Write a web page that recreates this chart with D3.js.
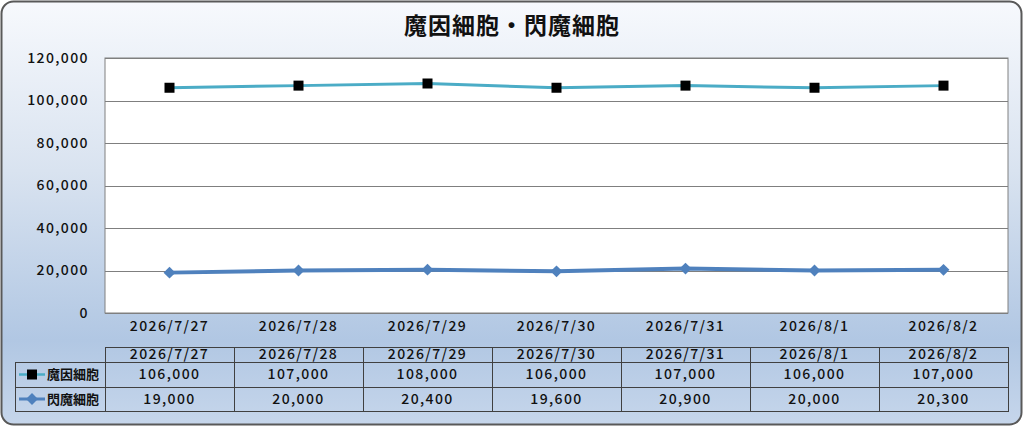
<!DOCTYPE html>
<html>
<head>
<meta charset="utf-8">
<script src="https://cdn.jsdelivr.net/npm/d3@7"></script>
<style>
  html, body { margin: 0; padding: 0; background: #ffffff; }
  text { font-family: "Noto Sans CJK JP", "Noto Sans", sans-serif; }
</style>
</head>
<body>
<div id="chart-area"></div>
<script>
// data
let dates = ["2026/7/27", "2026/7/28", "2026/7/29", "2026/7/30", "2026/7/31", "2026/8/1", "2026/8/2"];
let seriesNames = ["魔因細胞", "閃魔細胞"];
let maValues = [106000, 107000, 108000, 106000, 107000, 106000, 107000];
let senValues = [19000, 20000, 20400, 19600, 20900, 20000, 20300];
let yTicks = [0, 20000, 40000, 60000, 80000, 100000, 120000];
let title = "魔因細胞・閃魔細胞";

let W = 1024, H = 427;
let plot = {left: 105, right: 1008, top: 58, bottom: 313};

let svg = d3.select("#chart-area").append("svg")
	.attr("width", W)
	.attr("height", H);

let defs = svg.append("defs");
let grad = defs.append("linearGradient")
	.attr("id", "bg")
	.attr("x1", 0).attr("y1", 0).attr("x2", 0).attr("y2", 1);
grad.append("stop").attr("offset", "0%").attr("stop-color", "#f7f9fd");
grad.append("stop").attr("offset", "40%").attr("stop-color", "#d9e3f0");
grad.append("stop").attr("offset", "80%").attr("stop-color", "#b1c7e3");
grad.append("stop").attr("offset", "100%").attr("stop-color", "#c6d6eb");

// chart background
svg.append("rect")
	.attr("x", 1.5).attr("y", 1.5)
	.attr("width", W - 4).attr("height", H - 4)
	.attr("rx", 12).attr("ry", 12)
	.attr("fill", "url(#bg)")
	.attr("stroke", "#595959")
	.attr("stroke-width", 2);

svg.append("text")
	.attr("x", 512).attr("y", 34)
	.attr("text-anchor", "middle")
	.attr("font-size", 23)
	.attr("font-weight", "bold")
	.attr("letter-spacing", 1)
	.attr("fill", "#111")
	.text(title);

let x = d3.scaleBand()
	.domain(dates)
	.range([plot.left, plot.right]);

let y = d3.scaleLinear()
	.domain([0, 120000])
	.range([plot.bottom, plot.top]);

// plot area
svg.append("rect")
	.attr("x", plot.left).attr("y", plot.top)
	.attr("width", plot.right - plot.left)
	.attr("height", plot.bottom - plot.top)
	.attr("fill", "#ffffff")
	.attr("stroke", "#808080")
	.attr("stroke-width", 1);

// gridlines
svg.append("g")
	.selectAll("line")
	.data(yTicks)
	.enter().append("line")
	.attr("x1", plot.left).attr("x2", plot.right)
	.attr("y1", (d) => Math.round(y(d)) + 0.5)
	.attr("y2", (d) => Math.round(y(d)) + 0.5)
	.attr("stroke", "#7f7f7f")
	.attr("stroke-width", 1);

let labelStyle = (sel) => sel
	.attr("font-size", 14)
	.attr("font-weight", 500)
	.attr("letter-spacing", 1.4)
	.attr("fill", "#111")
	.style("font-family", "'Noto Sans CJK JP', sans-serif");

// y axis labels
let yAxis = d3.axisLeft(y)
	.tickValues(yTicks)
	.tickFormat(d3.format(","))
	.tickSize(0)
	.tickPadding(16);
let yg = svg.append("g")
	.attr("transform", "translate(" + plot.left + ",0)")
	.call(yAxis);
yg.select(".domain").remove();
labelStyle(yg.selectAll("text"));

// x axis labels
let xAxis = d3.axisBottom(x).tickSize(0).tickPadding(8);
let xg = svg.append("g")
	.attr("transform", "translate(0," + plot.bottom + ")")
	.call(xAxis);
xg.select(".domain").remove();
labelStyle(xg.selectAll("text"));

let cx = (d) => x(d) + x.bandwidth() / 2;

let line = d3.line()
	.x((d, i) => cx(dates[i]))
	.y((d) => y(d));

// 魔因細胞
svg.append("path")
	.datum(maValues)
	.attr("d", line)
	.attr("fill", "none")
	.attr("stroke", "#4bacc6")
	.attr("stroke-width", 3);

svg.append("g").selectAll("rect")
	.data(maValues)
	.enter().append("rect")
	.attr("x", (d, i) => cx(dates[i]) - 5)
	.attr("y", (d) => y(d) - 5)
	.attr("width", 10).attr("height", 10)
	.attr("fill", "#000");

// 閃魔細胞
svg.append("path")
	.datum(senValues)
	.attr("d", line)
	.attr("fill", "none")
	.attr("stroke", "#4f81bd")
	.attr("stroke-width", 4);

let diamond = d3.symbol().type(d3.symbolDiamond2).size(90);
svg.append("g").selectAll("path")
	.data(senValues)
	.enter().append("path")
	.attr("d", diamond)
	.attr("transform", (d, i) => "translate(" + cx(dates[i]) + "," + y(d) + ")")
	.attr("fill", "#4f81bd");

// data table
let tbl = {top: 347, head: 362, row1: 387, row2: 411, keyLeft: 15};
let tg = svg.append("g")
	.attr("stroke", "#404040")
	.attr("stroke-width", 1)
	.attr("fill", "none");

tg.append("rect")
	.attr("x", plot.left + 0.5).attr("y", tbl.top + 0.5)
	.attr("width", plot.right - plot.left).attr("height", tbl.row2 - tbl.top);
tg.append("rect")
	.attr("x", tbl.keyLeft + 0.5).attr("y", tbl.head + 0.5)
	.attr("width", plot.right - tbl.keyLeft).attr("height", tbl.row2 - tbl.head);
tg.append("line")
	.attr("x1", tbl.keyLeft).attr("x2", plot.right)
	.attr("y1", tbl.row1 + 0.5).attr("y2", tbl.row1 + 0.5);
tg.selectAll(".col")
	.data(dates.slice(1))
	.enter().append("line")
	.attr("x1", (d) => Math.round(x(d)) + 0.5)
	.attr("x2", (d) => Math.round(x(d)) + 0.5)
	.attr("y1", tbl.top).attr("y2", tbl.row2);

let cellText = (g, list, yMid, fmt) => {
	labelStyle(g.selectAll(null)
		.data(list)
		.enter().append("text")
		.attr("x", (d, i) => cx(dates[i]))
		.attr("y", yMid)
		.attr("dy", "0.35em")
		.attr("text-anchor", "middle"))
		.text(fmt);
};
let cg = svg.append("g");
cellText(cg, dates, (tbl.top + tbl.head) / 2, (d) => d);
cellText(cg, maValues, (tbl.head + tbl.row1) / 2, d3.format(","));
cellText(cg, senValues, (tbl.row1 + tbl.row2) / 2, d3.format(","));

// legend keys in table
let k1 = (tbl.head + tbl.row1) / 2, k2 = (tbl.row1 + tbl.row2) / 2;
svg.append("line")
	.attr("x1", 19).attr("x2", 45).attr("y1", k1).attr("y2", k1)
	.attr("stroke", "#4bacc6").attr("stroke-width", 2.5);
svg.append("rect")
	.attr("x", 27).attr("y", k1 - 5).attr("width", 10).attr("height", 10)
	.attr("fill", "#000");
svg.append("line")
	.attr("x1", 19).attr("x2", 45).attr("y1", k2).attr("y2", k2)
	.attr("stroke", "#4f81bd").attr("stroke-width", 3);
svg.append("path")
	.attr("d", diamond)
	.attr("transform", "translate(32," + k2 + ")")
	.attr("fill", "#4f81bd");

svg.selectAll(null)
	.data(seriesNames)
	.enter().append("text")
	.attr("x", 47)
	.attr("y", (d, i) => i === 0 ? k1 : k2)
	.attr("dy", "0.35em")
	.attr("font-size", 13)
	.attr("font-weight", "bold")
	.attr("fill", "#111")
	.text((d) => d);
</script>
</body>
</html>
